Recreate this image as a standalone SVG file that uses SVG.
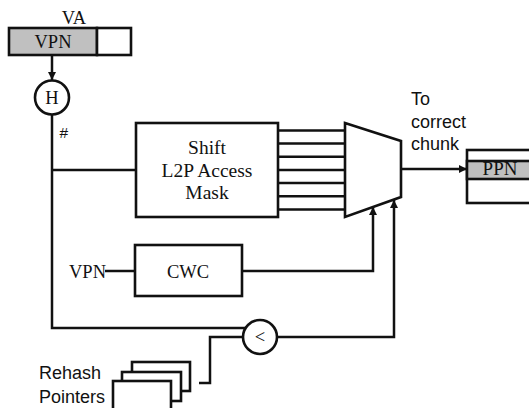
<svg xmlns="http://www.w3.org/2000/svg" width="529" height="408" viewBox="0 0 529 408">
<defs>
<style>
.ln{fill:none;stroke:#111;stroke-width:2.5}
.bx{fill:#fff;stroke:#111;stroke-width:2.6}
.gr{fill:#c0c0c0;stroke:#111;stroke-width:2.6}
.sf{font-family:"Liberation Serif","DejaVu Serif",serif;font-size:18.5px;fill:#111}
.ss{font-family:"Liberation Sans","Open Sans",sans-serif;font-size:18px;fill:#111}
</style>
<marker id="ah" viewBox="0 0 10 10" refX="10" refY="5" markerWidth="8" markerHeight="8" markerUnits="userSpaceOnUse" orient="auto">
<path d="M0,0 L10,5 L0,10 z" fill="#111"/>
</marker>
</defs>
<rect width="529" height="408" fill="#fff"/>

<g id="connectors">
<line class="ln" x1="52" y1="55" x2="52" y2="80" marker-end="url(#ah)"/>
<polyline class="ln" points="52,114.5 52,328 245.6,328"/>
<line class="ln" x1="52" y1="170" x2="136" y2="170"/>
<g id="bus">
<line class="ln" x1="278" y1="130.5" x2="345" y2="130.5"/>
<line class="ln" x1="278" y1="143.6" x2="345" y2="143.6"/>
<line class="ln" x1="278" y1="156.8" x2="345" y2="156.8"/>
<line class="ln" x1="278" y1="170" x2="345" y2="170"/>
<line class="ln" x1="278" y1="183.1" x2="345" y2="183.1"/>
<line class="ln" x1="278" y1="196.2" x2="345" y2="196.2"/>
<line class="ln" x1="278" y1="209.4" x2="345" y2="209.4"/>
</g>
<line class="ln" x1="401" y1="169" x2="467" y2="169" marker-end="url(#ah)"/>
<line class="ln" x1="105" y1="271" x2="135" y2="271"/>
<polyline class="ln" points="242,271 373,271 373,207" marker-end="url(#ah)"/>
<polyline class="ln" points="277,337 394,337 394,200" marker-end="url(#ah)"/>
<polyline class="ln" points="243,337 210,337 210,383 199,383"/>
</g>

<g id="va">
<text class="sf" x="74" y="24" text-anchor="middle">VA</text>
<rect class="gr" x="9" y="28" width="88" height="27"/>
<rect class="bx" x="97" y="28" width="34" height="27"/>
<text class="sf" x="53" y="48" text-anchor="middle">VPN</text>
</g>

<g id="hash">
<circle class="bx" cx="52" cy="97.5" r="17"/>
<text class="sf" x="52" y="104" text-anchor="middle">H</text>
<text class="ss" x="59.5" y="137.5" style="font-size:15.5px">#</text>
</g>

<g id="shift">
<rect class="bx" x="136" y="123" width="142" height="94"/>
<text class="sf" x="207" y="154" text-anchor="middle" style="font-size:19.5px">Shift</text>
<text class="sf" x="207" y="177" text-anchor="middle" style="font-size:19.5px">L2P Access</text>
<text class="sf" x="207" y="199" text-anchor="middle" style="font-size:19.5px">Mask</text>
</g>

<g id="mux">
<polygon class="bx" points="345,123 401,141 401,197 345,217"/>
</g>

<g id="label-to">
<text class="ss" x="411" y="105">To</text>
<text class="ss" x="411" y="128">correct</text>
<text class="ss" x="411" y="150">chunk</text>
</g>

<g id="ppn">
<rect class="bx" x="467" y="150" width="64" height="53"/>
<rect class="gr" x="467" y="161" width="64" height="18"/>
<text class="sf" x="500" y="175" text-anchor="middle" style="font-size:19px">PPN</text>
</g>

<g id="cwc">
<text class="sf" x="69" y="278">VPN</text>
<rect class="bx" x="135" y="245" width="107" height="51"/>
<text class="sf" x="188" y="278" text-anchor="middle">CWC</text>
</g>

<g id="compare">
<circle class="bx" cx="260" cy="337" r="17"/>
<text class="sf" x="260" y="343" text-anchor="middle">&lt;</text>
</g>

<g id="rehash">
<rect class="bx" x="132" y="362" width="58" height="29"/>
<rect class="bx" x="122" y="372" width="59" height="29"/>
<rect class="bx" x="113" y="381" width="58" height="32"/>
<text class="ss" x="39" y="379">Rehash</text>
<text class="ss" x="39" y="403">Pointers</text>
</g>
</svg>
